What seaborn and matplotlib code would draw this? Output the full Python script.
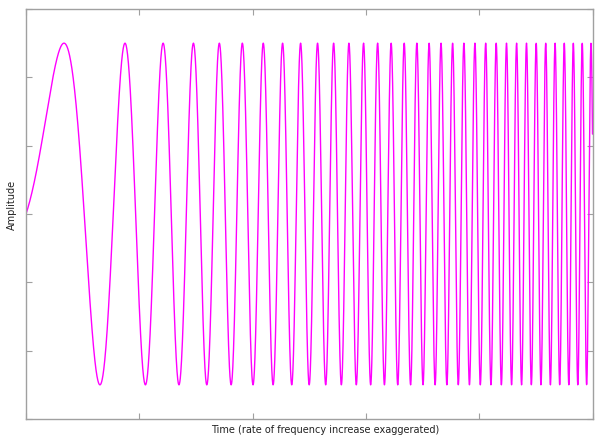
import numpy as np
import pandas as pd
import matplotlib
matplotlib.use("Agg")
import matplotlib.pyplot as plt
import seaborn as sns

# Linear chirp: y = sin(phase_rate * t + phase_accel * t^2)
t_start, t_end = 0.0, 5.0
phase_rate = 2.0      # rad per unit time at t=0
phase_accel = 8.0     # rad per unit time^2
n_samples = 4000

x_ticks = [0, 1, 2, 3, 4, 5]
y_ticks = [-1.2, -0.8, -0.4, 0.0, 0.4, 0.8, 1.2]
x_label = "Time (rate of frequency increase exaggerated)"
y_label = "Amplitude"

t = np.linspace(t_start, t_end, n_samples)
df = pd.DataFrame({"t": t, "amp": np.sin(phase_rate * t + phase_accel * t ** 2)})

sns.set_theme(style="white")
plt.rcParams['font.family'] = ['DejaVu Sans']

fig = plt.figure(figsize=(6.0, 4.43), dpi=100)
ax = fig.add_axes([26 / 600, (443 - 419) / 443, (592.5 - 26) / 600, (419 - 9) / 443])
sns.lineplot(data=df, x="t", y="amp", ax=ax, color="#ff00ff", linewidth=1.0, estimator=None)

ax.set_xlim(t_start, t_end)
ax.set_ylim(-1.2, 1.2)
ax.set_xticks(x_ticks)
ax.set_yticks(y_ticks)
ax.set_xticklabels([])
ax.set_yticklabels([])
ax.set_xlabel("")
ax.set_ylabel("")
ax.tick_params(direction="in", length=4, width=0.8, color="#a0a0a0",
               top=True, right=True, bottom=True, left=True)
for s in ax.spines.values():
    s.set_color("#a0a0a0")
    s.set_linewidth(1.0)

fig.text(325 / 600, 1 - 430 / 443, x_label, ha="center", va="center", fontsize=7, color="#222222")
fig.text(12 / 600, 1 - 205 / 443, y_label, ha="center", va="center", rotation=90, fontsize=7, color="#222222")

fig.savefig("out.png", dpi=100)
